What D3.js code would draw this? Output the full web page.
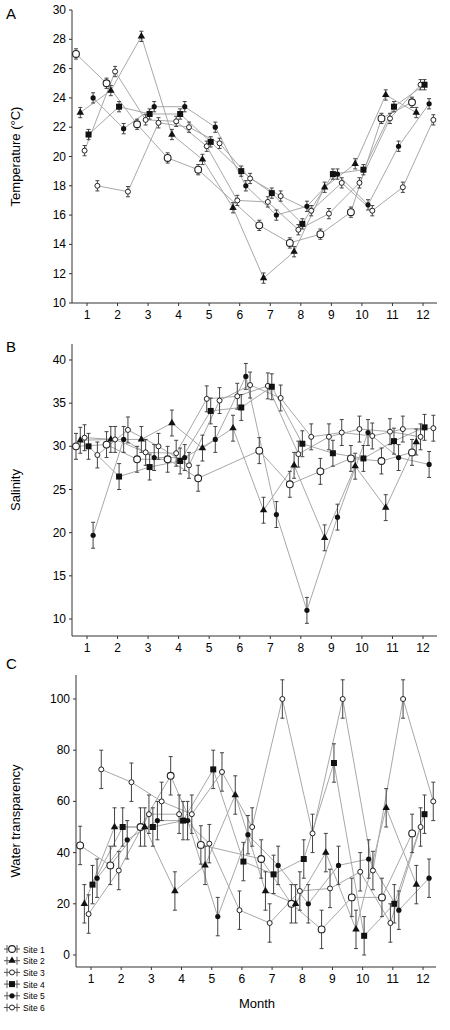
<!DOCTYPE html>
<html><head><meta charset="utf-8">
<script src="https://cdn.jsdelivr.net/npm/d3@7"></script>
<style>body{margin:0;background:#fff}svg{font-family:"Liberation Sans",Arial,sans-serif}</style>
</head><body><svg id="c" width="450" height="1030"></svg>
<script>
const months = [1,2,3,4,5,6,7,8,9,10,11,12];
const monthLabels = ["1","2","3","4","5","6","7","8","9","10","11","12"];
const sites = ["Site 1","Site 2","Site 3","Site 4","Site 5","Site 6"];
const offsets = [-0.36,-0.22,-0.08,0.05,0.2,0.34];
// Temperature
const tS1=[27.0,25.0,22.2,19.9,19.1,null,15.3,14.1,14.7,16.2,22.6,23.7];
const tS2=[23.0,24.5,28.2,21.5,19.8,16.5,11.7,13.5,17.9,19.5,24.2,23.0];
const tS3=[20.4,25.8,22.5,22.4,20.7,17.0,16.9,15.0,16.1,18.2,22.6,24.9];
const tS4=[21.5,23.4,22.9,22.9,21.0,19.0,17.5,15.4,18.8,19.1,23.4,24.9];
const tS5=[24.0,21.9,23.4,23.4,22.0,18.0,16.0,16.6,18.8,16.7,20.7,23.6];
const tS6=[18.0,17.6,22.3,22.0,20.9,18.5,17.3,16.3,18.2,16.3,17.9,22.5];
// Salinity
const sS1=[30.0,30.2,28.5,28.5,26.3,null,29.5,25.6,27.1,28.6,28.3,29.3];
const sS2=[30.7,30.8,30.8,32.7,29.8,32.1,22.6,27.8,19.4,27.7,22.9,30.5];
const sS3=[31.0,30.8,29.3,29.2,35.5,35.8,37.0,29.1,31.1,32.0,31.7,31.1];
const sS4=[30.0,26.5,27.6,28.3,34.1,34.5,36.9,30.3,29.2,28.6,30.6,32.2];
const sS5=[19.7,30.8,28.7,28.7,30.8,38.1,22.1,11.0,21.8,31.6,28.7,27.9];
const sS6=[29.0,31.9,30.0,27.8,35.3,37.1,35.6,31.1,31.6,31.2,32.0,32.1];
// Water transparency
const wS1=[42.8,35,50,70,43,null,37.5,20,10,22.5,22.5,47.5];
const wS2=[20,50,50,25,35,62.5,25,20,40,10,57.5,27.5];
const wS3=[16,33,55,55,43.5,17.5,12.5,25,26,32.5,12.5,50];
const wS4=[27.5,50,50,52.5,72.5,36.5,31.5,37.5,75,7.5,20,55];
const wS5=[30,45,52.5,52.5,15,47,35,20,35,37.5,17.5,30];
const wS6=[72.5,67.5,60,55,71.5,50,100,47.5,100,33,100,60];
const errA=0.35, errB=1.5, errC=7.5;

const svg=d3.select("#c");
const panels=[
 {lab:"A",title:"Temperature  (°C)",data:[tS1,tS2,tS3,tS4,tS5,tS6],dom:[10,30],ticks:[10,12,14,16,18,20,22,24,26,28,30],top:10,bot:303,axisTop:10,axisBot:303,x0:72,x1:437,m1:87,m12:423,err:errA,ly:14},
 {lab:"B",title:"Salinity",data:[sS1,sS2,sS3,sS4,sS5,sS6],dom:[10,40],ticks:[10,15,20,25,30,35,40],top:360,bot:619,axisTop:344,axisBot:636,x0:72,x1:437,m1:87,m12:423,err:errB,ly:347},
 {lab:"C",title:"Water transparency",data:[wS1,wS2,wS3,wS4,wS5,wS6],dom:[0,100],ticks:[0,20,40,60,80,100],top:699,bot:955,axisTop:675,axisBot:967,x0:76,x1:436,m1:91,m12:423,err:errC,ly:664}
];
const grey="#a8a8a8";
function marker(g,i,x,y){
  if(i===0) g.append("circle").attr("cx",x).attr("cy",y).attr("r",3.4).attr("fill","#fff").attr("stroke","#222").attr("stroke-width",1.1);
  else if(i===1) g.append("path").attr("d",d3.symbol(d3.symbolTriangle,24)()).attr("transform",`translate(${x},${y})`).attr("fill","#111");
  else if(i===2||i===5) g.append("circle").attr("cx",x).attr("cy",y).attr("r",2.5).attr("fill","#fff").attr("stroke","#222").attr("stroke-width",1);
  else if(i===3) g.append("rect").attr("x",x-3).attr("y",y-3).attr("width",6).attr("height",6).attr("fill","#111");
  else g.append("circle").attr("cx",x).attr("cy",y).attr("r",2.6).attr("fill","#111");
}
panels.forEach(p=>{
  const x=d3.scaleLinear().domain([1,12]).range([p.m1,p.m12]);
  const y=d3.scaleLinear().domain(p.dom).range([p.bot,p.top]);
  const g=svg.append("g");
  g.append("text").attr("x",6).attr("y",p.ly+5).attr("font-size",15).text(p.lab);
  g.append("line").attr("x1",p.x0).attr("x2",p.x0).attr("y1",p.axisTop).attr("y2",p.axisBot).attr("stroke","#333");
  g.append("line").attr("x1",p.x0).attr("x2",p.x1).attr("y1",p.axisBot).attr("y2",p.axisBot).attr("stroke","#333");
  p.ticks.forEach(t=>{
    g.append("line").attr("x1",p.x0-3).attr("x2",p.x0).attr("y1",y(t)).attr("y2",y(t)).attr("stroke","#333");
    g.append("text").attr("x",p.x0-6).attr("y",y(t)+4).attr("text-anchor","end").attr("font-size",12).text(t);
  });
  months.forEach((m,k)=>{
    g.append("line").attr("x1",x(m)).attr("x2",x(m)).attr("y1",p.axisBot).attr("y2",p.axisBot+3).attr("stroke","#333");
    g.append("text").attr("x",x(m)).attr("y",p.axisBot+16).attr("text-anchor","middle").attr("font-size",12).text(monthLabels[k]);
  });
  const cy=(p.axisTop+p.axisBot)/2;
  g.append("text").attr("transform",`translate(20,${cy}) rotate(-90)`).attr("text-anchor","middle").attr("font-size",13).text(p.title);
  p.data.forEach((arr,i)=>{
    const pts=months.map((m,k)=>({x:m+offsets[i],v:arr[k]})).filter(d=>d.v!=null);
    g.append("path").datum(pts).attr("d",d3.line().x(d=>x(d.x)).y(d=>y(d.v))).attr("fill","none").attr("stroke",grey).attr("stroke-width",1);
  });
  p.data.forEach((arr,i)=>{
    months.forEach((m,k)=>{
      const v=arr[k]; if(v==null) return;
      const px=x(m+offsets[i]);
      g.append("line").attr("x1",px).attr("x2",px).attr("y1",y(v-p.err)).attr("y2",y(v+p.err)).attr("stroke","#444").attr("stroke-width",1);
      [v-p.err,v+p.err].forEach(e=>g.append("line").attr("x1",px-2).attr("x2",px+2).attr("y1",y(e)).attr("y2",y(e)).attr("stroke","#444"));
      marker(g,i,px,y(v));
    });
  });
});
svg.append("text").attr("x",257).attr("y",1008).attr("text-anchor","middle").attr("font-size",13).text("Month");
const lg=svg.append("g");
sites.forEach((s,i)=>{
  const yy=949+i*11.7;
  lg.append("line").attr("x1",4).attr("x2",20).attr("y1",yy).attr("y2",yy).attr("stroke","#555");
  lg.append("line").attr("x1",7).attr("x2",7).attr("y1",yy-4).attr("y2",yy+4).attr("stroke","#555");
  lg.append("line").attr("x1",17).attr("x2",17).attr("y1",yy-4).attr("y2",yy+4).attr("stroke","#555");
  marker(lg,i,12,yy);
  lg.append("text").attr("x",23).attr("y",yy+3.5).attr("font-size",8.5).text(s);
});
</script></body></html>
